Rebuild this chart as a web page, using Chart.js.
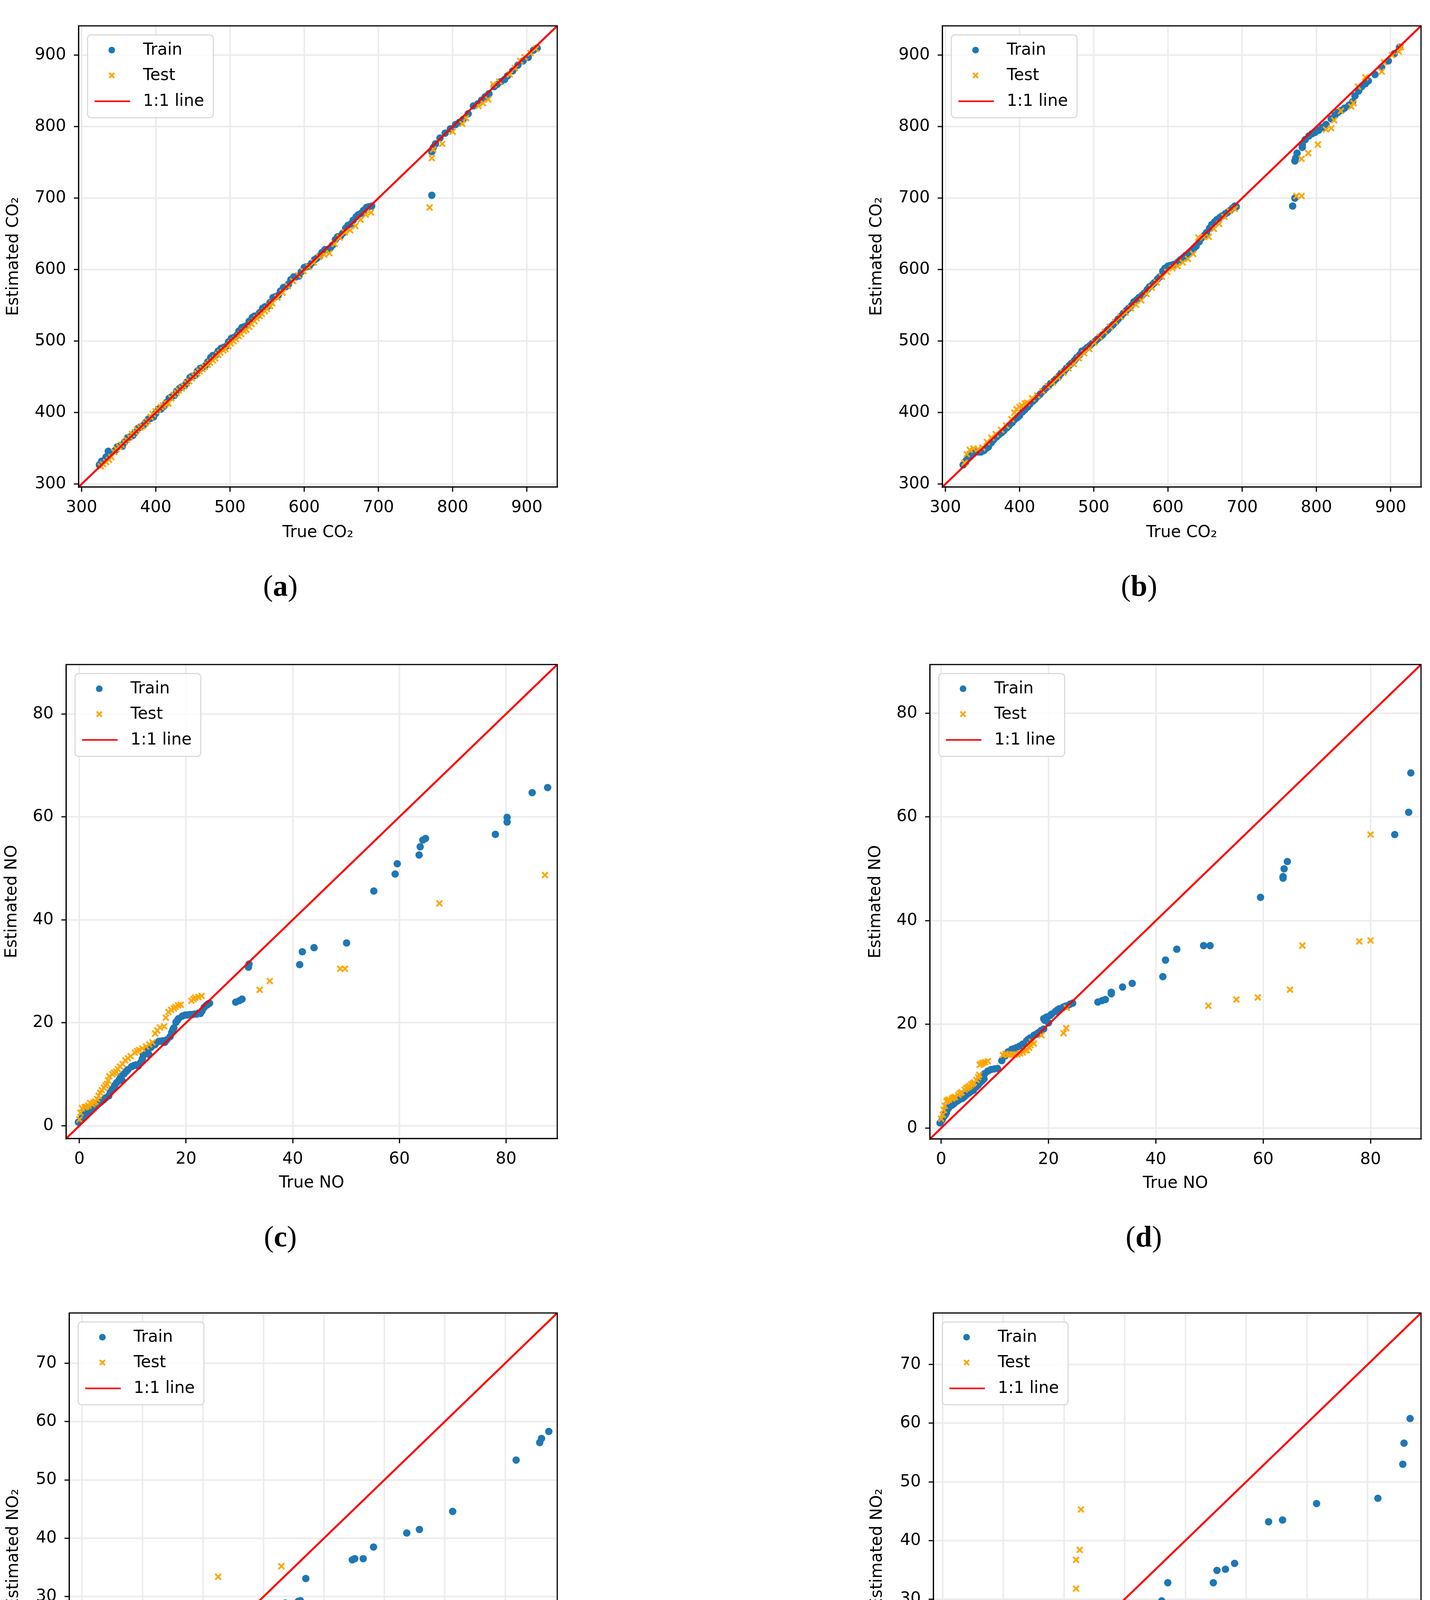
<!DOCTYPE html>
<html>
<head>
<meta charset="utf-8">
<script src="https://cdn.jsdelivr.net/npm/chart.js@4.4.1/dist/chart.umd.min.js"></script>
<style>
html,body{margin:0;padding:0;background:#fff;}
body{position:relative;width:3662px;height:4887px;overflow:hidden;}
canvas{position:absolute;}
.cap{position:absolute;font-family:"Liberation Serif","DejaVu Serif",serif;font-size:76px;color:#000;transform:translate(-50%,-50%);line-height:1;white-space:nowrap;}
</style>
</head>
<body>
<div class="cap" style="left:718px;top:1499px">(<b>a</b>)</div>
<div class="cap" style="left:2917px;top:1499px">(<b>b</b>)</div>
<div class="cap" style="left:718px;top:3165px">(<b>c</b>)</div>
<div class="cap" style="left:2929px;top:3165px">(<b>d</b>)</div>
<div class="cap" style="left:718px;top:4826px">(<b>e</b>)</div>
<div class="cap" style="left:2929px;top:4828px">(<b>f</b>)</div>
<script>
// axis limits (same for x and y, the 1:1 line runs corner to corner)
const aLim = [296, 941];
const bLim = [296, 941];
const cLim = [-2.5, 89.6];
const dLim = [-2.1, 89.4];
const eLim = [-2.15, 78.6];
const fLim = [-1.5, 78.8];

const co2Ticks = [300, 400, 500, 600, 700, 800, 900];
const noTicks = [0, 20, 40, 60, 80];
const no2Ticks = [0, 10, 20, 30, 40, 50, 60, 70];

// (a) CO2, model 1
const aTrain = [[324,327],[327,332],[330,333],[333,338],[336,346],[340,344],[345,347],[348,352],[352,354],[355,353],[358,359],[362,365],[365,366],[369,368],[372,372],[376,378],[379,380],[383,382],[386,386],[390,391],[393,392],[397,394],[400,399],[404,405],[407,405],[411,409],[414,414],[418,420],[421,422],[425,424],[428,430],[432,434],[435,436],[439,438],[442,443],[446,449],[449,451],[453,452],[456,458],[460,462],[463,463],[467,466],[470,471],[474,477],[477,480],[481,481],[484,486],[488,490],[491,491],[495,493],[498,499],[502,504],[505,505],[509,508],[512,514],[516,519],[519,520],[523,522],[526,528],[530,533],[533,535],[537,536],[540,540],[544,546],[547,548],[551,549],[554,554],[558,561],[561,562],[565,564],[568,570],[572,575],[575,576],[579,580],[582,586],[586,590],[589,590],[593,591],[596,597],[600,603],[603,604],[607,605],[610,609],[614,614],[617,616],[621,619],[624,624],[628,628],[631,628],[635,630],[638,634],[642,642],[645,646],[649,647],[652,651],[656,658],[659,662],[663,664],[666,669],[670,674],[673,677],[677,679],[680,683],[684,687],[687,688],[691,689],
  [772,704],[772,765],[774,771],[777,776],[783,784],[790,791],[797,797],[804,803],[809,806],[814,810],[821,818],[828,829],[834,832],[839,837],[844,842],[849,846],[856,856],[860,859],[865,863],[870,866],[874,871],[881,878],[888,886],[895,892],[902,897],[909,907],[914,910]];
const aTest = [[326,325],[329,328],[333,331],[337,334],[340,338],[344,345],[347,349],[351,352],[354,355],[358,359],[361,362],[365,366],[368,370],[372,373],[375,376],[379,379],[382,381],[386,385],[389,388],[393,394],[396,398],[400,402],[403,405],[407,408],[410,410],[414,413],[417,413],[421,420],[424,425],[428,428],[431,431],[435,434],[438,437],[442,441],[445,444],[449,448],[452,452],[456,455],[459,458],[463,461],[466,464],[470,467],[473,470],[477,473],[480,476],[484,481],[487,484],[491,487],[494,489],[498,493],[501,497],[505,500],[508,503],[512,507],[515,510],[519,514],[522,516],[526,520],[529,524],[533,528],[536,532],[540,535],[543,538],[547,542],[550,545],[554,549],[557,553],[564,561],[571,568],[578,577],[585,584],[592,592],[599,598],[606,604],[613,610],[620,618],[627,621],[634,623],[641,636],[648,645],[655,652],[662,655],[669,661],[676,670],[683,677],[690,680],
  [769,687],[772,756],[774,768],[786,776],[800,793],[813,804],[818,812],[835,829],[841,833],[848,838],[855,859],[863,863],[877,873],[884,882],[891,892],[897,897],[905,903],[912,909]];

// (b) CO2, model 2
const bTrain = [[324,327],[327,330],[328,333],[331,337],[333,340],[336,342],[338,343],[341,345],[345,345],[348,345],[352,347],[355,350],[358,352],[362,358],[365,362],[369,366],[372,369],[376,372],[379,375],[383,379],[386,382],[390,386],[393,390],[397,393],[400,396],[404,401],[407,404],[411,408],[414,412],[418,416],[421,419],[425,423],[428,426],[432,430],[435,434],[439,437],[442,441],[446,444],[449,447],[453,451],[456,455],[460,458],[463,462],[467,466],[470,469],[474,473],[477,477],[481,481],[484,486],[488,488],[491,491],[495,494],[498,497],[502,500],[505,503],[509,506],[512,509],[516,513],[519,516],[523,520],[526,523],[530,527],[533,531],[537,535],[540,539],[544,543],[547,546],[551,550],[554,555],[558,558],[561,561],[565,564],[568,567],[572,572],[575,576],[579,579],[582,582],[586,587],[589,590],[593,598],[596,602],[600,605],[603,606],[607,607],[610,608],[614,611],[617,614],[621,617],[624,620],[628,623],[631,626],[635,630],[638,633],[642,639],[645,644],[649,648],[652,652],[656,658],[659,663],[663,667],[666,670],[670,673],[673,675],[677,678],[680,680],[684,683],[687,686],[690,689],[692,688],
  [768,689],[771,700],[771,752],[772,756],[774,763],[781,771],[781,775],[785,782],[790,787],[794,790],[798,792],[803,795],[808,799],[813,803],[820,811],[825,816],[829,820],[834,823],[838,826],[844,830],[849,835],[852,843],[857,850],[861,856],[866,860],[870,864],[879,873],[888,883],[897,892],[905,902],[912,911]];
const bTest = [[326,330],[329,342],[333,348],[338,350],[344,349],[350,351],[356,359],[362,365],[368,370],[375,376],[382,382],[389,391],[393,400],[396,405],[400,408],[403,410],[407,413],[410,414],[417,420],[424,424],[431,430],[438,437],[445,442],[452,449],[459,456],[466,462],[473,468],[480,476],[487,483],[494,489],[501,498],[508,506],[515,513],[522,520],[529,527],[536,534],[543,540],[550,546],[557,551],[564,557],[571,566],[578,575],[585,582],[592,590],[599,597],[606,602],[613,605],[620,610],[627,615],[634,622],[641,645],[648,646],[655,646],[662,657],[669,664],[676,674],[683,682],[690,685],
  [773,703],[780,703],[780,755],[789,763],[802,775],[813,796],[820,798],[824,809],[833,822],[847,828],[850,833],[856,856],[866,869],[888,877],[891,890],[902,900],[911,905],[914,911]];

// (c) NO, model 1
const cTrain = [[-0.2,0.7],[0.5,1.5],[1.0,2.2],[1.0,3.0],[1.5,2.6],[2.0,2.9],[2.5,3.3],[3.0,3.7],[3.5,4.2],[4.0,4.6],[4.5,5.0],[4.9,5.4],[5.5,5.8],[5.8,6.5],[6.2,7.1],[6.6,7.8],[7.0,8.4],[7.5,9.0],[7.8,9.6],[8.0,8.8],[8.4,10.1],[8.8,10.6],[9.1,10.9],[9.8,11.5],[10.2,11.7],[10.6,11.8],[11.0,11.6],[11.5,12.3],[11.8,13.0],[12.0,13.7],[12.7,14.5],[13.0,13.9],[13.4,15.2],[13.8,15.6],[14.2,15.8],[14.9,16.4],[15.2,16.4],[15.6,16.5],[16.0,16.2],[16.4,16.7],[17.0,17.3],[17.3,18.1],[17.5,18.6],[17.7,19.0],[18.1,20.1],[18.4,20.5],[18.6,20.8],[19.3,21.3],[19.8,21.5],[20.2,21.5],[20.7,21.6],[21.2,21.6],[21.6,21.7],[22.0,21.7],[22.4,21.9],[22.7,21.8],[23.0,22.3],[23.4,23.0],[23.8,23.4],[24.0,23.5],[24.2,23.7],[24.4,23.8],
  [29.3,24.0],[30.0,24.3],[30.5,24.6],[31.7,30.8],[31.8,31.4],[41.3,31.3],[41.8,33.8],[44.0,34.6],[50.1,35.5],[55.2,45.6],[59.2,48.9],[59.6,50.9],[63.7,52.6],[63.9,54.2],[64.4,55.5],[64.9,55.8],[78.0,56.6],[80.2,59.9],[80.2,59.0],[84.9,64.7],[87.8,65.7]];
const cTest = [[0.0,1.2],[0.2,2.5],[0.5,3.4],[1.0,3.6],[1.3,3.7],[1.7,3.9],[2.0,4.4],[2.4,4.2],[2.7,4.5],[3.0,4.7],[3.3,5.2],[3.6,5.8],[3.9,6.4],[4.2,6.9],[4.6,7.4],[4.9,7.8],[5.2,8.1],[5.4,8.8],[5.6,9.6],[6.2,10.0],[6.5,10.3],[6.9,10.5],[7.2,11.0],[7.6,11.5],[8.1,12.0],[8.6,12.7],[9.1,13.1],[9.6,13.5],[10.4,14.2],[10.8,14.5],[11.2,14.7],[11.8,15.0],[12.5,15.4],[13.1,15.8],[13.7,16.2],[14.2,17.9],[14.6,18.5],[15.1,19.1],[15.9,19.3],[16.2,21.0],[16.7,22.1],[17.2,22.5],[17.7,22.8],[18.0,23.1],[18.5,23.4],[19.0,23.5],[21.0,24.3],[21.4,24.6],[21.7,24.9],[22.3,25.0],[22.9,25.2],
  [33.8,26.4],[35.7,28.1],[48.9,30.5],[49.8,30.5],[67.5,43.2],[87.3,48.7]];

// (d) NO, model 2
const dTrain = [[-0.2,1.0],[0.2,1.6],[0.5,2.2],[0.8,2.6],[1.0,3.0],[1.2,3.6],[1.5,4.0],[2.0,4.4],[2.4,4.7],[3.0,5.2],[3.4,5.5],[3.9,5.7],[4.3,6.0],[4.7,6.4],[5.2,6.8],[5.6,7.1],[6.0,7.3],[6.5,7.9],[6.9,8.3],[7.3,8.8],[7.7,9.2],[8.0,9.5],[8.1,10.5],[8.7,11.0],[9.3,11.3],[9.9,11.4],[10.5,11.5],[11.3,13.0],[11.9,13.9],[12.2,14.3],[12.5,14.7],[13.2,15.2],[13.6,15.3],[14.0,15.5],[14.6,15.8],[15.2,16.2],[15.9,16.8],[16.2,17.1],[16.6,17.4],[17.3,17.9],[17.7,18.1],[18.1,18.4],[18.6,18.8],[19.1,19.1],[20.0,20.3],[19.1,21.1],[19.3,20.8],[19.6,21.4],[20.3,21.7],[20.6,22.0],[21.3,22.5],[21.7,22.8],[22.0,23.0],[22.7,23.3],[23.1,23.5],[23.5,23.6],[24.0,23.9],[24.5,24.1],
  [29.2,24.3],[30.0,24.6],[30.6,24.8],[31.7,26.2],[31.7,25.9],[33.8,27.2],[35.6,27.9],[41.3,29.2],[41.8,32.4],[43.9,34.5],[48.9,35.2],[50.1,35.2],[59.5,44.5],[63.7,48.2],[63.7,48.5],[63.9,50.0],[64.5,51.4],[84.5,56.6],[87.1,60.9],[87.5,68.5]];
const dTest = [[0.0,1.8],[0.3,2.6],[0.5,3.5],[0.7,4.3],[1.0,5.2],[1.2,5.4],[1.5,5.5],[2.0,5.7],[2.3,5.9],[2.6,6.0],[3.2,6.4],[3.5,6.7],[3.8,6.9],[4.4,7.4],[4.7,7.7],[5.0,7.9],[5.3,8.1],[5.6,8.4],[5.9,8.6],[6.1,8.8],[6.6,9.3],[6.9,9.8],[7.1,10.3],[7.2,12.2],[7.5,12.4],[7.8,12.6],[8.2,12.7],[8.7,12.9],[11.5,14.1],[12.0,14.3],[12.6,14.2],[13.2,14.2],[13.7,14.2],[14.2,14.2],[14.7,14.4],[15.2,14.6],[15.7,15.0],[16.0,15.0],[16.4,15.5],[16.6,16.0],[16.9,16.6],[17.3,16.3],[18.7,17.9],[22.8,18.3],[23.3,19.3],[23.4,23.2],
  [49.8,23.6],[55.0,24.8],[59.0,25.2],[65.0,26.7],[67.3,35.2],[77.9,36.0],[80.0,36.2],[80.0,56.6]];

// (e) NO2, model 1
const eTrain = [[-0.1,0.65],[0.0,1.3],[0.0,1.95],[0.3,1.0],[0.6,1.9],[0.9,2.0],[1.2,2.2],[1.5,2.3],[1.8,2.4],[2.2,2.5],[2.5,2.6],[2.9,2.9],[3.1,3.0],[3.3,3.2],[3.6,3.8],[3.8,4.1],[4.0,4.5],[4.3,4.8],[4.7,5.1],[5.1,5.3],[5.5,5.6],[5.8,5.9],[6.1,6.2],[6.4,6.5],[6.8,6.9],[7.1,7.2],[7.4,7.6],[7.7,8.0],[8.1,8.4],[8.4,8.7],[8.7,9.0],[9.0,9.3],[9.35,9.7],[9.7,10.1],[10.0,10.5],[10.3,10.8],[10.6,11.2],[11.0,11.5],[11.5,11.9],[12.0,12.2],[12.4,12.5],[12.8,12.8],[13.2,13.2],[13.6,13.5],[14.1,13.85],[14.4,14.3],[14.7,14.9],[15.0,15.4],[15.2,15.8],[15.7,16.4],[16.2,16.9],[16.7,17.3],[17.1,17.7],[17.4,17.9],[17.8,18.2],[18.1,18.4],[18.4,18.6],[18.8,18.9],[19.1,19.1],[19.5,19.3],[19.9,19.5],[20.2,19.7],[20.5,19.8],[21.0,20.0],[21.3,20.3],[21.6,20.8],[22.0,21.2],[22.3,21.4],[22.6,22.0],[22.8,22.3],[22.9,22.7],[23.0,24.5],
  [25.9,24.8],[31.1,27.3],[32.1,27.8],[33.6,28.9],[35.75,29.2],[36.1,29.3],[37.0,33.1],[44.7,36.3],[45.1,36.5],[46.5,36.5],[48.2,38.5],[53.7,40.9],[55.8,41.5],[61.3,44.6],[71.8,53.4],[75.7,56.4],[76.0,57.1],[77.2,58.3]];
const eTest = [[0.75,1.7],[1.1,2.0],[1.5,2.2],[1.9,2.4],[2.26,2.6],[2.26,4.2],[2.7,4.5],[3.3,5.0],[3.6,5.3],[4.0,5.6],[4.3,6.0],[4.6,6.3],[5.0,6.6],[5.3,6.9],[5.7,7.1],[6.0,7.5],[6.3,8.0],[6.6,8.7],[7.0,9.5],[7.3,9.6],[7.6,9.6],[8.0,9.7],[8.3,9.85],[8.6,10.5],[8.9,11.2],[9.5,11.6],[9.8,11.9],[10.2,12.1],[10.8,12.5],[11.1,12.7],[11.5,12.98],[12.2,13.4],[12.5,13.6],[12.8,13.85],[13.3,14.5],[13.6,14.9],[13.9,15.4],[14.2,15.9],[14.5,16.4],[15.05,17.6],[15.4,19.3],[16.2,19.7],[16.7,20.0],[17.4,20.5],[17.5,19.8],[18.2,20.7],[19.0,21.1],[19.5,21.5],[19.9,21.9],[20.4,22.1],[20.9,22.4],[21.0,23.4],[21.3,24.1],[21.8,24.9],[22.1,25.6],
  [22.5,33.4],[32.96,35.2]];

// (f) NO2, model 2
const fTrain = [[-0.06,1.4],[0.2,1.5],[0.4,1.7],[0.7,1.9],[0.9,2.05],[1.2,2.2],[1.4,2.3],[1.7,2.4],[1.97,2.5],[2.3,2.6],[2.6,2.8],[3.0,3.0],[3.3,3.1],[3.7,4.3],[4.1,5.5],[4.4,5.7],[4.6,5.9],[4.9,6.1],[5.2,6.3],[5.4,6.5],[5.7,6.7],[6.0,7.0],[6.3,7.2],[6.6,7.5],[6.8,7.8],[7.1,8.2],[7.3,8.5],[7.6,8.8],[7.8,9.0],[8.1,9.3],[8.4,9.6],[8.6,9.9],[8.9,10.2],[9.3,10.5],[9.7,10.9],[10.0,11.2],[10.3,11.6],[10.6,11.9],[11.0,12.2],[11.3,12.4],[11.6,12.5],[11.9,12.6],[12.2,12.8],[12.5,13.0],[12.8,13.2],[13.2,13.4],[13.5,13.7],[13.8,14.0],[14.1,14.4],[14.5,14.8],[14.8,15.2],[15.1,15.5],[15.4,15.8],[15.8,16.1],[16.1,16.5],[16.4,16.9],[16.7,17.2],[17.1,17.6],[17.4,18.0],[17.7,18.1],[18.0,18.2],[18.4,18.3],[18.7,18.4],[19.1,19.0],[19.5,19.5],[19.8,19.6],[20.1,19.8],[20.4,20.0],[20.6,20.1],[21.0,20.6],[21.2,20.7],[21.5,20.9],[21.8,21.0],[22.0,21.2],[22.3,21.9],[22.5,22.2],[22.7,22.5],[23.0,23.2],
  [25.8,23.7],[31.1,25.1],[32.1,25.8],[33.1,27.0],[33.6,27.4],[35.6,28.7],[36.1,29.7],[37.1,32.8],[44.6,32.8],[45.2,34.9],[46.6,35.1],[48.1,36.1],[53.7,43.2],[56.0,43.5],[61.6,46.3],[71.7,47.2],[75.8,53.0],[76.0,56.6],[77.0,60.8]];
const fTest = [[0.04,2.5],[0.26,3.0],[0.6,3.0],[1.0,3.1],[1.5,3.2],[1.97,3.3],[2.2,3.5],[2.4,3.8],[2.6,4.2],[2.8,4.6],[3.0,6.1],[3.1,6.5],[3.3,7.0],[3.8,7.0],[4.0,7.0],[4.3,7.1],[4.5,7.1],[4.8,7.2],[5.2,7.6],[5.6,8.1],[6.0,8.6],[6.3,8.9],[6.6,9.2],[6.9,9.4],[7.1,9.6],[7.4,9.8],[7.6,9.9],[8.0,10.2],[8.2,10.4],[8.5,10.6],[8.7,10.8],[9.0,11.0],[9.25,11.1],[9.6,11.4],[9.9,11.8],[10.2,12.2],[10.5,12.6],[10.8,13.0],[11.1,13.2],[11.4,13.4],[11.9,13.6],[12.2,13.7],[12.5,13.9],[13.0,14.3],[13.5,14.8],[14.0,15.3],[14.3,15.6],[14.8,16.1],[15.3,16.7],[15.6,17.0],[15.9,17.3],[16.3,17.6],[16.7,18.0],[17.2,18.6],[17.8,19.3],[17.8,17.3],[18.4,19.6],[18.9,20.1],[19.2,20.2],[19.5,20.4],[20.2,21.0],[20.5,21.4],[20.8,22.1],[21.5,21.8],
  [22.0,26.2],[22.0,31.8],[22.0,36.7],[22.6,38.4],[22.8,45.3]];

const seriesNames = ['Train', 'Test', '1:1 line'];

// page placement of each plot area [left, top, right, bottom] and label gaps
const panels = [
  {train:aTrain, test:aTest, lim:aLim, ticks:co2Ticks, xt:'True CO\u2082', yt:'Estimated CO\u2082', box:[201,31,1427,1247], yGap:166, xGap:117},
  {train:bTrain, test:bTest, lim:bLim, ticks:co2Ticks, xt:'True CO\u2082', yt:'Estimated CO\u2082', box:[2413,31,3639,1247], yGap:167, xGap:117},
  {train:cTrain, test:cTest, lim:cLim, ticks:noTicks, xt:'True NO', yt:'Estimated NO', box:[169,1666,1427,2915], yGap:138, xGap:114},
  {train:dTrain, test:dTest, lim:dLim, ticks:noTicks, xt:'True NO', yt:'Estimated NO', box:[2381,1666,3639,2916], yGap:138, xGap:114},
  {train:eTrain, test:eTest, lim:eLim, ticks:no2Ticks, xt:'True NO\u2082', yt:'Estimated NO\u2082', box:[177,3326,1427,4568], yGap:142, xGap:121},
  {train:fTrain, test:fTest, lim:fLim, ticks:no2Ticks, xt:'True NO\u2082', yt:'Estimated NO\u2082', box:[2390,3326,3639,4567], yGap:143, xGap:121}
];

const FONT = {family:'DejaVu Sans', size:42, lineHeight:1.2};
const HALF = 25.2;

// frame on all four sides + matplotlib-like legend box
const boxLegend = {
  id:'boxLegend',
  afterDraw(chart) {
    const {ctx, chartArea:a} = chart;
    ctx.save();
    ctx.strokeStyle = '#000';
    ctx.lineWidth = 3;
    ctx.strokeRect(a.left, a.top, a.right - a.left, a.bottom - a.top);
    const bx = a.left + 23, by = a.top + 23;
    ctx.beginPath();
    ctx.roundRect(bx, by, 322, 212, 9);
    ctx.fillStyle = 'rgba(255,255,255,0.85)';
    ctx.fill();
    ctx.strokeStyle = '#d4d4d4';
    ctx.lineWidth = 2.5;
    ctx.stroke();
    const rows = [39, 104, 170];
    chart.data.datasets.forEach((ds, i) => {
      const y = by + rows[i], mx = bx + 62;
      if (ds.type === 'line') {
        ctx.strokeStyle = ds.borderColor; ctx.lineWidth = 4;
        ctx.beginPath(); ctx.moveTo(bx + 18, y); ctx.lineTo(bx + 109, y); ctx.stroke();
      } else if (ds.pointStyle === 'circle') {
        ctx.fillStyle = ds.backgroundColor;
        ctx.beginPath(); ctx.arc(mx, y, 8.5, 0, Math.PI * 2); ctx.fill();
      } else {
        ctx.strokeStyle = ds.borderColor; ctx.lineWidth = 4.5;
        ctx.beginPath();
        ctx.moveTo(mx - 6.5, y - 6.5); ctx.lineTo(mx + 6.5, y + 6.5);
        ctx.moveTo(mx + 6.5, y - 6.5); ctx.lineTo(mx - 6.5, y + 6.5);
        ctx.stroke();
      }
      ctx.fillStyle = '#000';
      ctx.font = '42px "DejaVu Sans"';
      ctx.textBaseline = 'middle';
      ctx.textAlign = 'left';
      ctx.fillText(ds.label, bx + 142, y + 1);
    });
    ctx.restore();
  }
};

function axis(lim, ticks, title, isX, size) {
  return {
    type:'linear', min:lim[0], max:lim[1],
    afterBuildTicks: ax => { ax.ticks = ticks.map(v => ({value:v})); },
    afterFit: ax => { if (isX) ax.height = size; else ax.width = size; },
    ticks: {font:FONT, color:'#000', padding: isX ? 16 : 20, maxRotation:0, autoSkip:false, callback: v => String(v)},
    grid: {color:'#ececec', lineWidth:4, tickLength:12, tickColor:'#000', tickWidth:3},
    border: {display:true, color:'#000', width:3},
    title: {display:true, text:title, font:FONT, color:'#000', padding:0}
  };
}

function makePanel(p) {
  const [L, T, R, B] = p.box;
  const yw = p.yGap + HALF, xh = p.xGap + HALF, padT = 10, padR = 20;
  const w = Math.round(yw + (R - L) + padR), h = Math.round(padT + (B - T) + xh);
  const cv = document.createElement('canvas');
  cv.width = w; cv.height = h;
  cv.style.left = (L - yw) + 'px';
  cv.style.top = (T - padT) + 'px';
  cv.style.width = w + 'px';
  cv.style.height = h + 'px';
  document.body.appendChild(cv);
  new Chart(cv, {
    type:'scatter',
    data:{datasets:[
      {label:seriesNames[0], data:p.train.map(([x, y]) => ({x, y})), pointStyle:'circle', pointRadius:9.5, backgroundColor:'#1f77b4', borderWidth:0, order:3},
      {label:seriesNames[1], data:p.test.map(([x, y]) => ({x, y})), pointStyle:'crossRot', pointRadius:10.5, borderColor:'#ffa500', backgroundColor:'#ffa500', borderWidth:4.5, order:2},
      {type:'line', label:seriesNames[2], data:[{x:p.lim[0], y:p.lim[0]}, {x:p.lim[1], y:p.lim[1]}], borderColor:'#ff0000', borderWidth:5, pointRadius:0, fill:false, showLine:true, order:1}
    ]},
    options:{
      responsive:false, animation:false, devicePixelRatio:1,
      layout:{padding:{left:0, top:padT, right:padR, bottom:0}},
      plugins:{legend:{display:false}, tooltip:{enabled:false}},
      scales:{
        x: axis(p.lim, p.ticks, p.xt, true, xh),
        y: axis(p.lim, p.ticks, p.yt, false, yw)
      }
    },
    plugins:[boxLegend]
  });
}

panels.forEach(makePanel);
</script>
</body>
</html>
